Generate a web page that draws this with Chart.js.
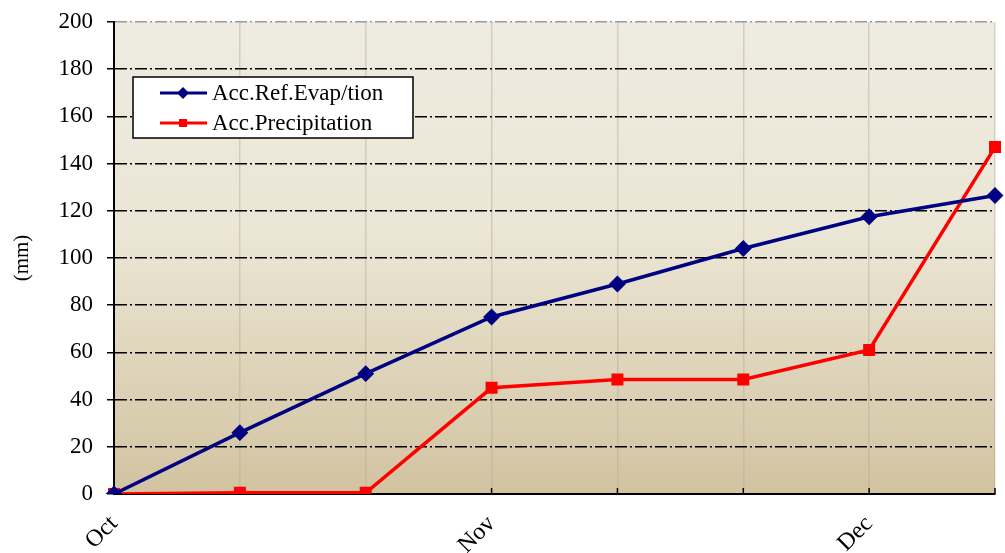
<!DOCTYPE html>
<html>
<head>
<meta charset="utf-8">
<script src="https://cdn.jsdelivr.net/npm/chart.js@4/dist/chart.umd.min.js"></script>
<style>
  html, body { margin: 0; padding: 0; background: #fff; }
  #wrap { width: 1005px; height: 553px; }
</style>
</head>
<body>
<div id="wrap"><canvas id="chart"></canvas></div>
<script>
// Accumulated values (mm), one point per ~10 days
const labels = ['Oct', '', '', 'Nov', '', '', 'Dec', ''];
const evapValues = [0, 26, 51, 75, 89, 104, 117.5, 126.5];
const precipValues = [0, 0.5, 0.5, 45, 48.5, 48.5, 61, 147];
const seriesNames = ['Acc.Ref.Evap/tion', 'Acc.Precipitation'];
const yTitle = '(mm)';

const FONT = "'Liberation Serif', 'DejaVu Serif', serif";

// gradient behind the plot area
const bgPlugin = {
  id: 'plotBg',
  beforeDraw(chart) {
    const { ctx, chartArea: a } = chart;
    const g = ctx.createLinearGradient(0, a.top, 0, a.bottom);
    g.addColorStop(0, '#eeebe0');
    g.addColorStop(0.45, '#ebe6d5');
    g.addColorStop(1, '#d2c3a0');
    ctx.save();
    ctx.fillStyle = g;
    ctx.fillRect(a.left, a.top, a.right - a.left, a.bottom - a.top);
    ctx.restore();
  }
};

// little inward tick marks on the category axis
const innerTicks = {
  id: 'innerTicks',
  beforeDatasetsDraw(chart) {
    const { ctx, scales: { x }, chartArea: a } = chart;
    ctx.save();
    ctx.strokeStyle = '#000';
    ctx.lineWidth = 1.5;
    labels.forEach((_, i) => {
      const px = x.getPixelForValue(i);
      ctx.beginPath();
      ctx.moveTo(px, a.bottom);
      ctx.lineTo(px, a.bottom - 6);
      ctx.stroke();
    });
    ctx.restore();
  }
};

// boxed legend sitting inside the plot
const boxLegend = {
  id: 'boxLegend',
  afterDraw(chart) {
    const ctx = chart.ctx;
    const x = 133, y = 77, w = 280, h = 61;
    ctx.save();
    ctx.fillStyle = '#fff';
    ctx.fillRect(x, y, w, h);
    ctx.strokeStyle = '#000';
    ctx.lineWidth = 1.5;
    ctx.strokeRect(x, y, w, h);
    chart.data.datasets.forEach((ds, i) => {
      const cy = y + 16 + i * 30;
      ctx.strokeStyle = ds.borderColor;
      ctx.lineWidth = 3;
      ctx.beginPath();
      ctx.moveTo(160, cy);
      ctx.lineTo(207, cy);
      ctx.stroke();
      ctx.fillStyle = ds.borderColor;
      ctx.beginPath();
      if (ds.pointStyle === 'rectRot') {
        ctx.moveTo(183, cy - 6); ctx.lineTo(189, cy); ctx.lineTo(183, cy + 6); ctx.lineTo(177, cy);
      } else {
        ctx.rect(179, cy - 4, 8, 8);
      }
      ctx.closePath();
      ctx.fill();
      ctx.fillStyle = '#000';
      ctx.font = '23px ' + FONT;
      ctx.textBaseline = 'middle';
      ctx.fillText(ds.label, 212, cy + 1);
    });
    ctx.restore();
  }
};

const ctx = document.getElementById('chart').getContext('2d');
new Chart(ctx, {
  type: 'line',
  data: {
    labels,
    datasets: [{
      label: seriesNames[0],
      data: evapValues,
      borderColor: '#000080',
      backgroundColor: '#000080',
      borderWidth: 3.5,
      pointStyle: 'rectRot',
      pointRadius: 6,
      pointHoverRadius: 6,
      tension: 0
    }, {
      label: seriesNames[1],
      data: precipValues,
      borderColor: '#ff0000',
      backgroundColor: '#ff0000',
      borderWidth: 3.5,
      pointStyle: 'rect',
      pointRadius: 6,
      pointHoverRadius: 6,
      tension: 0
    }]
  },
  options: {
    responsive: true,
    maintainAspectRatio: false,
    animation: false,
    layout: { padding: { top: 22, right: 10, left: 0, bottom: 0 } },
    plugins: {
      legend: { display: false },
      tooltip: { enabled: false }
    },
    scales: {
      x: {
        offset: false,
        grid: {
          color: 'rgba(180,170,150,0.45)',
          lineWidth: 1.5,
          drawTicks: false
        },
        border: { color: '#000', width: 2 },
        ticks: {
          autoSkip: false,
          maxRotation: 45,
          minRotation: 45,
          padding: 16,
          color: '#000',
          font: { family: FONT, size: 24 }
        },
        afterFit(scale) {
          scale.height = 59;
          scale.paddingLeft = 0;
          scale.paddingRight = 0;
        }
      },
      y: {
        min: 0,
        max: 200,
        ticks: {
          stepSize: 20,
          padding: 14,
          color: '#000',
          font: { family: FONT, size: 23 }
        },
        grid: {
          color: c => (c.tick && c.tick.value === 200 ? '#999' : '#000'),
          lineWidth: 1.5,
          tickLength: 7,
          tickColor: '#000',
          tickWidth: 1.5
        },
        border: { color: '#000', width: 2, dash: [12, 3, 2, 3] },
        title: {
          display: true,
          text: yTitle,
          color: '#000',
          font: { family: FONT, size: 21 },
          padding: { top: 10, bottom: 0 }
        },
        afterFit(scale) {
          scale.width = 114;
          scale.paddingTop = 0;
          scale.paddingBottom = 0;
        }
      }
    }
  },
  plugins: [bgPlugin, innerTicks, boxLegend]
});
</script>
</body>
</html>
